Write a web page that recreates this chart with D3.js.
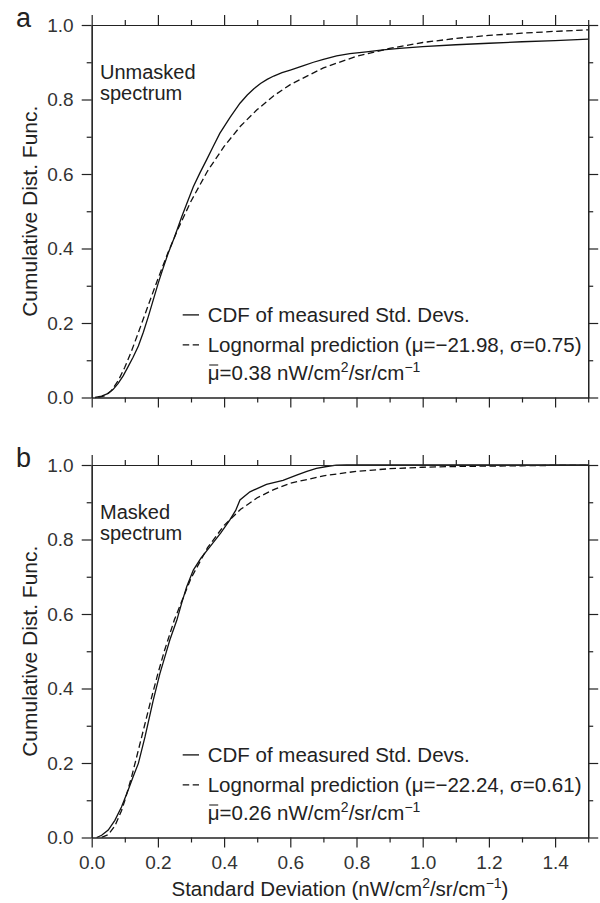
<!DOCTYPE html>
<meta charset="utf-8">
<style>
body { margin: 0; background: #fff; }
text { font-family: "Liberation Sans", Arial, sans-serif; fill: #222; }
.axis path, .axis line { stroke: #222; stroke-width: 1.2; }
.axis text { font-size: 19px; fill: #333; font-family: "Liberation Sans", Arial, sans-serif; }
.curve { fill: none; stroke: #111; stroke-width: 1.3; }
.dash { stroke-dasharray: 6.5,3.5; }
</style>
<svg width="600" height="903"></svg>
<script src="https://d3js.org/d3.v7.min.js"></script>
<script>

// tick values
var xTicks = [0, 0.2, 0.4, 0.6, 0.8, 1.0, 1.2, 1.4]
var xMinor = [0.1, 0.3, 0.5, 0.7, 0.9, 1.1, 1.3, 1.5]
var yTicks = [0, 0.2, 0.4, 0.6, 0.8, 1.0]
var yMinor = [0.1, 0.3, 0.5, 0.7, 0.9]

// panel a : unmasked spectrum  [std dev, CDF]
var measuredA = [[0.01,0],[0.03,0.004],[0.05,0.011],[0.065,0.022],[0.08,0.038],[0.095,0.058],[0.11,0.083],
  [0.125,0.108],[0.141,0.138],[0.156,0.175],[0.171,0.217],[0.186,0.262],[0.201,0.307],[0.216,0.348],
  [0.231,0.387],[0.25,0.43],[0.272,0.485],[0.29,0.527],[0.307,0.566],[0.327,0.603],[0.347,0.638],
  [0.367,0.674],[0.387,0.709],[0.418,0.752],[0.448,0.790],[0.47,0.812],[0.49,0.829],[0.51,0.843],
  [0.53,0.854],[0.55,0.863],[0.575,0.872],[0.60,0.879],[0.64,0.891],[0.67,0.900],[0.70,0.908],
  [0.74,0.917],[0.78,0.923],[0.83,0.928],[0.88,0.933],[0.93,0.937],[1.0,0.942],[1.1,0.947],
  [1.2,0.951],[1.3,0.955],[1.4,0.958],[1.5,0.962]]
var lognormA = [[0.02,0.0002],[0.04,0.0044],[0.06,0.019],[0.08,0.045],[0.10,0.081],[0.12,0.124],[0.14,0.172],
  [0.16,0.221],[0.18,0.270],[0.20,0.318],[0.23,0.388],[0.26,0.451],[0.30,0.527],[0.35,0.608],[0.40,0.674],
  [0.45,0.729],[0.50,0.773],[0.55,0.810],[0.60,0.840],[0.70,0.885],[0.80,0.916],[0.90,0.937],[1.0,0.953],
  [1.1,0.964],[1.2,0.972],[1.3,0.978],[1.4,0.983],[1.5,0.987]]

// panel b : masked spectrum
var measuredB = [[0.015,0],[0.03,0.006],[0.05,0.02],[0.07,0.046],[0.09,0.082],[0.11,0.127],[0.126,0.165],
  [0.141,0.199],[0.161,0.27],[0.186,0.369],[0.206,0.44],[0.221,0.485],[0.236,0.53],[0.257,0.583],
  [0.272,0.63],[0.287,0.673],[0.307,0.718],[0.33,0.75],[0.357,0.78],[0.39,0.818],[0.417,0.852],
  [0.435,0.878],[0.448,0.906],[0.478,0.928],[0.528,0.948],[0.578,0.959],[0.619,0.973],[0.65,0.983],
  [0.679,0.991],[0.71,0.996],[0.739,0.9995],[0.77,1.0],[1.5,1.0]]
var lognormB = [[0.03,0.0006],[0.05,0.0077],[0.07,0.031],[0.09,0.072],[0.10,0.099],[0.12,0.161],[0.14,0.231],
  [0.16,0.302],[0.18,0.373],[0.20,0.440],[0.22,0.502],[0.25,0.585],[0.30,0.696],[0.35,0.778],[0.40,0.838],
  [0.45,0.881],[0.50,0.912],[0.55,0.934],[0.60,0.951],[0.70,0.971],[0.80,0.983],[0.90,0.990],[1.0,0.994],
  [1.1,0.996],[1.2,0.997],[1.3,0.998],[1.4,0.999],[1.5,0.999]]

var panelLetters = ["a", "b"]
var panelNotes = [["Unmasked", "spectrum"], ["Masked", "spectrum"]]
var fitParams = ["(\u03bc=\u221221.98, \u03c3=0.75)", "(\u03bc=\u221222.24, \u03c3=0.61)"]
var meanValues = ["0.38", "0.26"]

var svg = d3.select("svg")
var left = 91.7, plotW = 496.5, plotH = 372.5
var tops = [25, 465]
var fs = 20.5

var x = d3.scaleLinear().domain([0, 1.5]).range([0, plotW])
var y = d3.scaleLinear().domain([0, 1]).range([plotH, 0])

var line = d3.line().x(function(d){ return x(d[0]) }).y(function(d){ return y(d[1]) })

// writes text with superscript parts: [[str, isSup], ...]
function supText(t, parts, size){
  parts.forEach(function(p, i){
    var prev = i > 0 && parts[i-1][1]
    var ts = t.append("tspan").text(p[0])
    if (p[1]) ts.attr("dy", -size*0.38).style("font-size", (size*0.68) + "px")
    else if (prev) ts.attr("dy", size*0.38)
  })
}

var units = [["/cm", false], ["2", true], ["/sr/cm", false], ["\u22121", true]]

var series = [[measuredA, lognormA], [measuredB, lognormB]]

series.forEach(function(s, p){
  var g = svg.append("g").attr("transform", "translate(" + left + "," + tops[p] + ")")

  // curves
  g.append("path").attr("class", "curve").attr("d", line(s[0]))
  g.append("path").attr("class", "curve dash").attr("d", line(s[1]))

  // axes, major + minor, all four sides
  g.append("g").attr("class", "axis").attr("transform", "translate(0," + plotH + ")")
    .call(d3.axisBottom(x).tickValues(xTicks).tickSize(10).tickSizeOuter(0).tickPadding(8)
      .tickFormat(p == 1 ? d3.format(".1f") : ""))
  g.append("g").attr("class", "axis").attr("transform", "translate(0," + plotH + ")")
    .call(d3.axisBottom(x).tickValues(xMinor).tickSize(5).tickSizeOuter(0).tickFormat(""))
  g.append("g").attr("class", "axis")
    .call(d3.axisTop(x).tickValues(xTicks).tickSize(10).tickSizeOuter(0).tickFormat(""))
  g.append("g").attr("class", "axis")
    .call(d3.axisTop(x).tickValues(xMinor).tickSize(5).tickSizeOuter(0).tickFormat(""))
  g.append("g").attr("class", "axis")
    .call(d3.axisLeft(y).tickValues(yTicks).tickSize(10).tickSizeOuter(0).tickPadding(8).tickFormat(d3.format(".1f")))
  g.append("g").attr("class", "axis")
    .call(d3.axisLeft(y).tickValues(yMinor).tickSize(5).tickSizeOuter(0).tickFormat(""))
  g.append("g").attr("class", "axis").attr("transform", "translate(" + plotW + ",0)")
    .call(d3.axisRight(y).tickValues(yTicks).tickSize(10).tickSizeOuter(0).tickFormat(""))
  g.append("g").attr("class", "axis").attr("transform", "translate(" + plotW + ",0)")
    .call(d3.axisRight(y).tickValues(yMinor).tickSize(5).tickSizeOuter(0).tickFormat(""))

  // panel letter
  svg.append("text").attr("x", 16).attr("y", tops[p] + 2).style("font-size", "27px").text(panelLetters[p])

  // y title
  svg.append("text").attr("transform", "translate(36.5," + (tops[p] + plotH/2) + ") rotate(-90)")
    .attr("text-anchor", "middle").style("font-size", "21px").text("Cumulative Dist. Func.")

  // spectrum note
  var note = g.append("text").attr("x", 8.3).attr("y", 54).style("font-size", "20px")
  note.append("tspan").attr("x", 8.3).text(panelNotes[p][0])
  note.append("tspan").attr("x", 8.3).attr("dy", 21).text(panelNotes[p][1])

  // legend
  var lg = g.append("g").attr("transform", "translate(91," + (plotH - 75.8) + ")")
  lg.append("line").attr("class", "curve").attr("x1", 0).attr("x2", 16.3).attr("y1", -6.8).attr("y2", -6.8)
  lg.append("line").attr("class", "curve dash").attr("x1", 0).attr("x2", 16.3).attr("y1", 23.2).attr("y2", 23.2)
  lg.append("text").attr("x", 25).attr("y", 0).style("font-size", fs + "px").text("CDF of measured Std. Devs.")
  lg.append("text").attr("x", 25).attr("y", 30).style("font-size", fs + "px").text("Lognormal prediction " + fitParams[p])
  var mt = lg.append("text").attr("x", 25).attr("y", 58.3).style("font-size", fs + "px")
  supText(mt, [["\u03bc=" + meanValues[p] + " nW", false]].concat(units), fs)
  // bar over mu
  lg.append("line").attr("x1", 26.5).attr("x2", 35.5).attr("y1", 58.3 - 15).attr("y2", 58.3 - 15)
    .attr("stroke", "#222").attr("stroke-width", 1.1)
})

// x title
var xt = svg.append("text").attr("x", left + plotW/2).attr("y", 896).attr("text-anchor", "middle").style("font-size", fs + "px")
supText(xt, [["Standard Deviation (nW", false]].concat(units).concat([[")", false]]), fs)

</script>
